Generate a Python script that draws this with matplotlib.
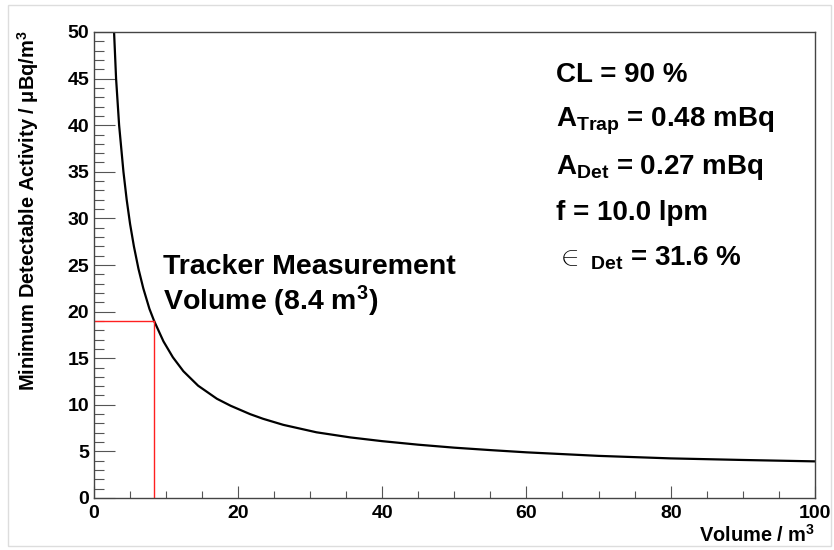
import matplotlib
matplotlib.use("Agg")
import matplotlib.pyplot as plt
from matplotlib.ticker import MultipleLocator
from matplotlib.patches import Rectangle

plt.rcParams['font.family'] = ['Liberation Sans', 'DejaVu Sans']
plt.rcParams['font.weight'] = 'bold'
plt.rcParams['mathtext.fontset'] = 'custom'
plt.rcParams['mathtext.rm'] = 'Liberation Sans:bold'
plt.rcParams['mathtext.bf'] = 'Liberation Sans:bold'
plt.rcParams['mathtext.it'] = 'Liberation Sans:bold'
plt.rcParams['mathtext.sf'] = 'Liberation Sans:bold'
plt.rcParams['mathtext.default'] = 'rm'

# Curve values
volume = [2.85, 3.13, 3.55, 4.15, 4.6, 5.07, 5.6, 6.23, 6.9, 7.75, 8.4, 9.7, 11.0,
          12.46, 14.5, 17.1, 19.0, 21.7, 23.5, 26.3, 30.9, 35.6, 40.0, 45.0, 50.0,
          55.0, 60.0, 70.0, 80.0, 90.0, 100.0]
mda = [50.0, 45.0, 40.0, 35.0, 32.0, 29.4, 27.0, 24.6, 22.5, 20.3, 19.0, 16.8, 15.1,
       13.6, 12.05, 10.65, 9.9, 9.0, 8.5, 7.85, 7.05, 6.5, 6.1, 5.72, 5.4,
       5.14, 4.9, 4.52, 4.25, 4.08, 3.93]

tracker_volume = 8.4
tracker_mda = 19.0

info_lines = [r'CL = 90 %',
              r'A$_{\mathrm{Trap}}$ = 0.48 mBq',
              r'A$_{\mathrm{Det}}$ = 0.27 mBq',
              r'f = 10.0 lpm',
              r'$\in_{\mathrm{\ Det}}$ = 31.6 %']

fig = plt.figure(figsize=(8.34, 5.5), dpi=100)
W, H = 834, 550
ax = fig.add_axes([93.5 / W, 1 - 498 / H, (815 - 93.5) / W, (498 - 32) / H])

ax.plot(volume, mda, color='black', lw=1.6, solid_joinstyle='round', solid_capstyle='round')
ax.plot([0, tracker_volume], [tracker_mda, tracker_mda], color='#ff2020', lw=1.0)
ax.plot([tracker_volume, tracker_volume], [0, tracker_mda], color='#ff2020', lw=1.0)

ax.set_xlim(0, 100)
ax.set_ylim(0, 50)
ax.xaxis.set_major_locator(MultipleLocator(20))
ax.xaxis.set_minor_locator(MultipleLocator(5))
ax.yaxis.set_major_locator(MultipleLocator(5))
ax.yaxis.set_minor_locator(MultipleLocator(1))
ax.tick_params(axis='x', which='major', direction='in', length=9, width=0.8, color='#555555',
               labelsize=14, pad=5)
ax.tick_params(axis='x', which='minor', direction='in', length=5, width=0.8, color='#555555')
ax.tick_params(axis='y', which='major', direction='in', length=15, width=0.8, color='#555555',
               labelsize=14, pad=3)
ax.tick_params(axis='y', which='minor', direction='in', length=7.5, width=0.8, color='#555555')
for lab in ax.get_xticklabels() + ax.get_yticklabels():
    lab.set_fontweight('bold')
for s in ax.spines.values():
    s.set_color('#444444')
    s.set_linewidth(1.0)

fig.text(815 / W, 1 - 535 / H, r'Volume / m$^{3}$', ha='right', va='center', fontsize=14.4,
         fontweight='bold')
fig.text(28 / W, 1 - 211 / H, r'Minimum Detectable Activity / μBq/m$^{3}$', rotation=90,
         ha='center', va='center', fontsize=14.4, fontweight='bold')

ys = [75, 121, 167, 213, 258]
for y, t in zip(ys, info_lines):
    fig.text(556 / W, 1 - y / H, t, ha='left', va='center', fontsize=20, fontweight='bold')

fig.text(163 / W, 1 - 267 / H, 'Tracker Measurement', ha='left', va='center', fontsize=20.5,
         fontweight='bold')
fig.text(163 / W, 1 - 301 / H, r'Volume (8.4 m$^{3}$)', ha='left', va='center', fontsize=20.5,
         fontweight='bold')

fig.patches.append(Rectangle((8 / W, 1 - 546 / H), (831 - 8) / W, (546 - 5) / H,
                             transform=fig.transFigure, fill=False, edgecolor='#dddddd',
                             lw=1.0))

fig.savefig('out.png', dpi=100)
